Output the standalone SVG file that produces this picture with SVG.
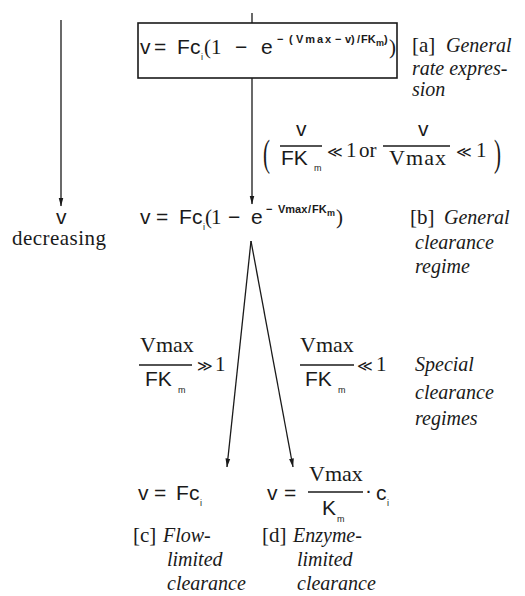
<svg xmlns="http://www.w3.org/2000/svg" width="525" height="596" viewBox="0 0 525 596">
<style>
text{fill:#1a1a1a}
.s{font-family:"Liberation Sans",Arial,sans-serif;font-size:21px}
.r{font-family:"Liberation Serif","Times New Roman",serif;font-size:21px}
.v{font-family:"Liberation Serif","Times New Roman",serif;font-size:22px}
.i{font-family:"Liberation Serif","Times New Roman",serif;font-style:italic;font-size:20px}
.sup{font-family:"Liberation Sans",Arial,sans-serif;font-size:11px;font-weight:bold}
.sub{font-family:"Liberation Sans",Arial,sans-serif;font-size:9px}
.m{font-family:"DejaVu Sans",sans-serif;font-size:15px}
.ln{stroke:#1a1a1a;stroke-width:1.3;fill:none}
.box{stroke:#1a1a1a;stroke-width:1.6;fill:none}
</style>
<defs>
<marker id="ah" viewBox="0 0 9 6" refX="8.5" refY="3" markerWidth="9" markerHeight="6" markerUnits="userSpaceOnUse" orient="auto">
<path d="M0,0.6 L9,3 L0,5.4 z" fill="#1a1a1a"/>
</marker>
</defs>

<g id="connectors">
<line class="ln" x1="61" y1="20" x2="61" y2="206" marker-end="url(#ah)"/>
<line class="ln" x1="252" y1="13" x2="252" y2="23"/>
<line class="ln" x1="252" y1="78" x2="252" y2="204" marker-end="url(#ah)"/>
<line class="ln" x1="251" y1="241" x2="227" y2="467" marker-end="url(#ah)"/>
<line class="ln" x1="251" y1="241" x2="293" y2="467" marker-end="url(#ah)"/>
</g>

<g id="node-a">
<rect class="box" x="138" y="23" width="259" height="55"/>
<text class="s" x="140" y="54">v</text>
<text class="s" x="154" y="54">=</text>
<text class="s" x="177" y="54">F</text>
<text class="s" x="190" y="54">c</text>
<text class="sub" x="201" y="60">i</text>
<text class="r" x="204" y="54">(</text>
<text class="r" x="211" y="54">1</text>
<text class="s" x="235" y="54">−</text>
<text class="s" x="261" y="54">e</text>
<text class="sup" x="277" y="43">−</text>
<text class="sup" x="289" y="43">(</text>
<text class="sup" x="296" y="43" font-size="12" textLength="35" lengthAdjust="spacing">Vmax</text>
<text class="sup" x="335" y="43">−</text>
<text class="sup" x="345" y="43">v)</text>
<text class="sup" x="357" y="43">/</text>
<text class="sup" x="361" y="43">FK</text>
<text class="sub" x="376" y="46" font-weight="bold">m</text>
<text class="sup" x="384" y="43">)</text>
<text class="r" x="389" y="54">)</text>
<text class="r" x="412" y="52" font-size="20">[a]</text>
<text class="i" x="446" y="52">General</text>
<text class="i" x="412" y="75">rate expres-</text>
<text class="i" x="412" y="96">sion</text>
</g>

<g id="node-condition">
<text class="r" transform="translate(263,166) scale(1,1.85)" font-size="32">(</text>
<text class="s" x="296" y="136">v</text>
<line class="ln" x1="280" y1="146" x2="322" y2="146"/>
<text class="s" x="281" y="165">FK</text>
<text class="sub" x="314" y="171">m</text>
<text class="m" x="327" y="157">≪</text>
<text class="r" x="346" y="157">1</text>
<text class="r" x="359" y="157">or</text>
<text class="s" x="418" y="136">v</text>
<line class="ln" x1="383" y1="146" x2="450" y2="146"/>
<text class="v" x="389" y="165" textLength="57" lengthAdjust="spacing">Vmax</text>
<text class="m" x="456" y="157">≪</text>
<text class="r" x="476" y="157">1</text>
<text class="r" transform="translate(494,166) scale(1,1.85)" font-size="32">)</text>
</g>

<g id="node-decreasing">
<text class="s" x="56" y="224">v</text>
<text class="r" x="12" y="245" textLength="94" lengthAdjust="spacing">decreasing</text>
</g>

<g id="node-b">
<text class="s" x="140" y="224">v</text>
<text class="s" x="156" y="224">=</text>
<text class="s" x="179" y="224">F</text>
<text class="s" x="192" y="224">c</text>
<text class="sub" x="203" y="230">i</text>
<text class="r" x="205" y="224">(</text>
<text class="r" x="211" y="224">1</text>
<text class="s" x="228" y="224">−</text>
<text class="s" x="251" y="224">e</text>
<text class="sup" x="266" y="213">−</text>
<text class="sup" x="278" y="213">Vmax</text>
<text class="sup" x="308" y="213">/</text>
<text class="sup" x="312" y="213">FK</text>
<text class="sub" x="327" y="216" font-weight="bold">m</text>
<text class="r" x="336" y="224" font-size="17">)</text>
<text class="r" x="410" y="224" font-size="20">[b]</text>
<text class="i" x="444" y="224">General</text>
<text class="i" x="415" y="249">clearance</text>
<text class="i" x="415" y="273">regime</text>
</g>

<g id="node-special">
<text class="v" x="140" y="352">Vmax</text>
<line class="ln" x1="139" y1="365" x2="192" y2="365"/>
<text class="s" x="145" y="386">FK</text>
<text class="sub" x="178" y="393">m</text>
<text class="m" x="197" y="371">≫</text>
<text class="r" x="215" y="371">1</text>
<text class="v" x="300" y="352">Vmax</text>
<line class="ln" x1="300" y1="365" x2="354" y2="365"/>
<text class="s" x="305" y="386">FK</text>
<text class="sub" x="338" y="393">m</text>
<text class="m" x="357" y="371">≪</text>
<text class="r" x="376" y="371">1</text>
<text class="i" x="415" y="371">Special</text>
<text class="i" x="415" y="399">clearance</text>
<text class="i" x="415" y="425">regimes</text>
</g>

<g id="node-c">
<text class="s" x="138" y="500">v</text>
<text class="s" x="154" y="500">=</text>
<text class="s" x="176" y="500">F</text>
<text class="s" x="189" y="500">c</text>
<text class="sub" x="200" y="506">i</text>
<text class="r" x="133" y="542" font-size="20">[c]</text>
<text class="i" x="163" y="542">Flow-</text>
<text class="i" x="167" y="566">limited</text>
<text class="i" x="167" y="590">clearance</text>
</g>

<g id="node-d">
<text class="s" x="267" y="500">v</text>
<text class="s" x="284" y="500">=</text>
<text class="v" x="309" y="481">Vmax</text>
<line class="ln" x1="308" y1="492" x2="363" y2="492"/>
<text class="s" x="322" y="515">K</text>
<text class="sub" x="337" y="522">m</text>
<text class="s" x="365" y="497">·</text>
<text class="s" x="376" y="500">c</text>
<text class="sub" x="387" y="506">i</text>
<text class="r" x="262" y="542" font-size="20">[d]</text>
<text class="i" x="293" y="542">Enzyme-</text>
<text class="i" x="297" y="566">limited</text>
<text class="i" x="297" y="590">clearance</text>
</g>
</svg>
